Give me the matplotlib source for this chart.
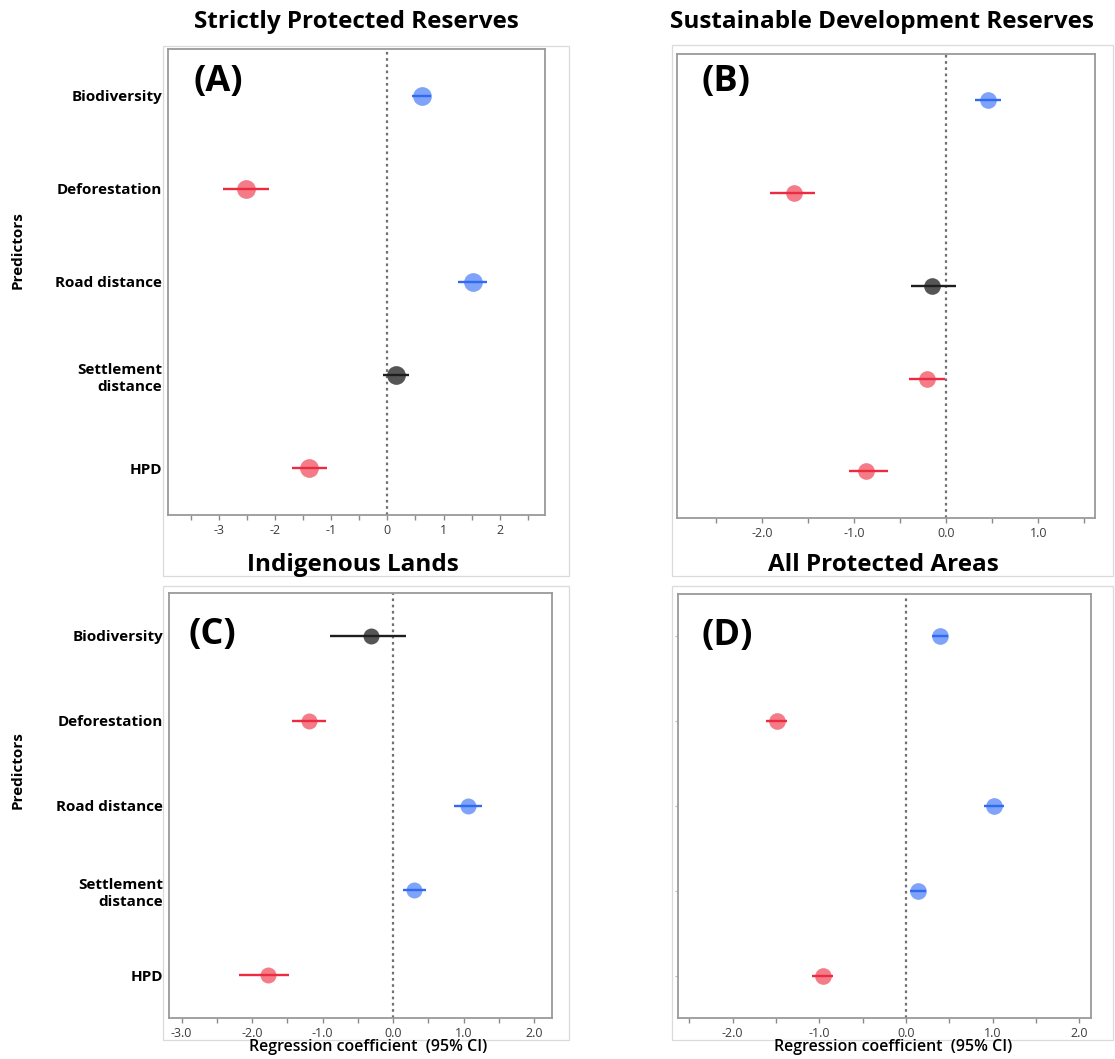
import matplotlib
matplotlib.use("Agg")
import matplotlib.pyplot as plt
from matplotlib.ticker import MultipleLocator, FormatStrFormatter
from matplotlib.patches import Rectangle

plt.rcParams["font.family"] = ["Open Sans", "DejaVu Sans"]

predictors = ["Biodiversity", "Deforestation", "Road distance", "Settlement\ndistance", "HPD"]

# (A) strictly protected reserves
est_a = [0.61, -2.52, 1.52, 0.15, -1.40]
lo_a = [0.43, -2.92, 1.25, -0.08, -1.70]
hi_a = [0.78, -2.11, 1.78, 0.38, -1.08]
# (B) sustainable development reserves
est_b = [0.45, -1.65, -0.15, -0.21, -0.87]
lo_b = [0.31, -1.91, -0.38, -0.40, -1.05]
hi_b = [0.59, -1.42, 0.11, -0.01, -0.63]
# (C) indigenous lands
est_c = [-0.31, -1.19, 1.06, 0.30, -1.77]
lo_c = [-0.90, -1.43, 0.87, 0.14, -2.18]
hi_c = [0.18, -0.95, 1.26, 0.47, -1.47]
# (D) all protected areas
est_d = [0.39, -1.49, 1.02, 0.14, -0.96]
lo_d = [0.30, -1.61, 0.90, 0.05, -1.08]
hi_d = [0.49, -1.37, 1.13, 0.23, -0.84]

W, H = 1115, 1059
fig = plt.figure(figsize=(W / 100, H / 100), dpi=100)


def px_box(l, t, r, b):
    return [l / W, 1 - b / H, (r - l) / W, (b - t) / H]


# faint outer frames around each graph
for l, t, r, b in [(163, 46, 569, 576), (672, 45, 1113, 576), (163, 586, 569, 1040), (672, 586, 1113, 1040)]:
    fig.add_artist(Rectangle((l / W, 1 - b / H), (r - l) / W, (b - t) / H, transform=fig.transFigure,
                             fill=False, edgecolor="#dadada", linewidth=0.9))

panels = [
    dict(est=est_a, lo=lo_a, hi=hi_a, box=(167.9, 48.9, 544.6, 515), xlim=(-3.91, 2.80), fmt="%d",
         title="Strictly Protected Reserves", tpos=(356, 22), letter="(A)", lpos=(0.068, 0.929),
         ms=13.5, ylab=True, xlab=False),
    dict(est=est_b, lo=lo_b, hi=hi_b, box=(677.1, 53.6, 1094.6, 517.9), xlim=(-2.92, 1.61), fmt="%.1f",
         title="Sustainable Development Reserves", tpos=(882, 22), letter="(B)", lpos=(0.058, 0.938),
         ms=12, ylab=False, xlab=False),
    dict(est=est_c, lo=lo_c, hi=hi_c, box=(168.9, 593.3, 551.8, 1017.7), xlim=(-3.18, 2.25), fmt="%.1f",
         title="Indigenous Lands", tpos=(353, 565), letter="(C)", lpos=(0.051, 0.902),
         ms=11.5, ylab=True, xlab=True),
    dict(est=est_d, lo=lo_d, hi=hi_d, box=(677.9, 594, 1091.4, 1018.3), xlim=(-2.63, 2.14), fmt="%.1f",
         title="All Protected Areas", tpos=(883, 565), letter="(D)", lpos=(0.057, 0.901),
         ms=12, ylab=False, xlab=True),
]

for p in panels:
    ax = fig.add_axes(px_box(*p["box"]))
    ypos = list(range(len(predictors)))
    ax.axvline(0, color="#707070", linestyle=(0, (1.2, 1.6)), linewidth=1.6, zorder=1)
    for y, e, lo, hi in zip(ypos, p["est"], p["lo"], p["hi"]):
        if lo > 0:
            line_c, fill_c = "#2f6bf2", "#7ea3f8"
        elif hi < 0:
            line_c, fill_c = "#ec2a40", "#f47c89"
        else:
            line_c, fill_c = "#1e1e1e", "#555555"
        ax.plot([e], [y], "o", ms=p["ms"], color=fill_c, markeredgewidth=0, zorder=2)
        ax.plot([lo, hi], [y, y], color=line_c, linewidth=1.7, solid_capstyle="butt", zorder=3)

    ax.set_xlim(*p["xlim"])
    ax.set_ylim(4.5, -0.5)
    ax.xaxis.set_major_locator(MultipleLocator(1))
    ax.xaxis.set_minor_locator(MultipleLocator(0.5))
    ax.xaxis.set_major_formatter(FormatStrFormatter(p["fmt"]))
    ax.tick_params(axis="x", which="both", direction="out", length=3.5, width=1, color="#8a8a8a",
                   labelsize=9, labelcolor="#3c3c3c", pad=3)
    ax.set_yticks(ypos)
    if p["ylab"]:
        ax.set_yticklabels(predictors, fontsize=11, fontweight="bold", linespacing=1.3)
        ax.tick_params(axis="y", length=0, pad=4)
    else:
        ax.set_yticklabels([])
        ax.tick_params(axis="y", length=2.5 if p["xlab"] else 0, color="#bbbbbb")
    for s in ax.spines.values():
        s.set_color("#9a9a9a")
        s.set_linewidth(1.3)

    ax.text(p["lpos"][0], p["lpos"][1], p["letter"], transform=ax.transAxes, ha="left", va="center",
            fontsize=26, fontweight="bold")
    fig.text(p["tpos"][0] / W, 1 - p["tpos"][1] / H, p["title"], ha="center", va="center",
             fontsize=17.5, fontweight="bold")
    if p["xlab"]:
        cx = (p["box"][0] + p["box"][2]) / 2 + 8
        fig.text(cx / W, 1 - 1047 / H, "Regression coefficient  (95% CI)", ha="center", va="center",
                 fontsize=11.5, fontweight="semibold")

fig.text(18 / W, 1 - 250 / H, "Predictors", rotation=90, ha="center", va="center", fontsize=11, fontweight="bold")
fig.text(18 / W, 1 - 770 / H, "Predictors", rotation=90, ha="center", va="center", fontsize=11, fontweight="bold")

fig.savefig("out.png", dpi=100, facecolor="white")
